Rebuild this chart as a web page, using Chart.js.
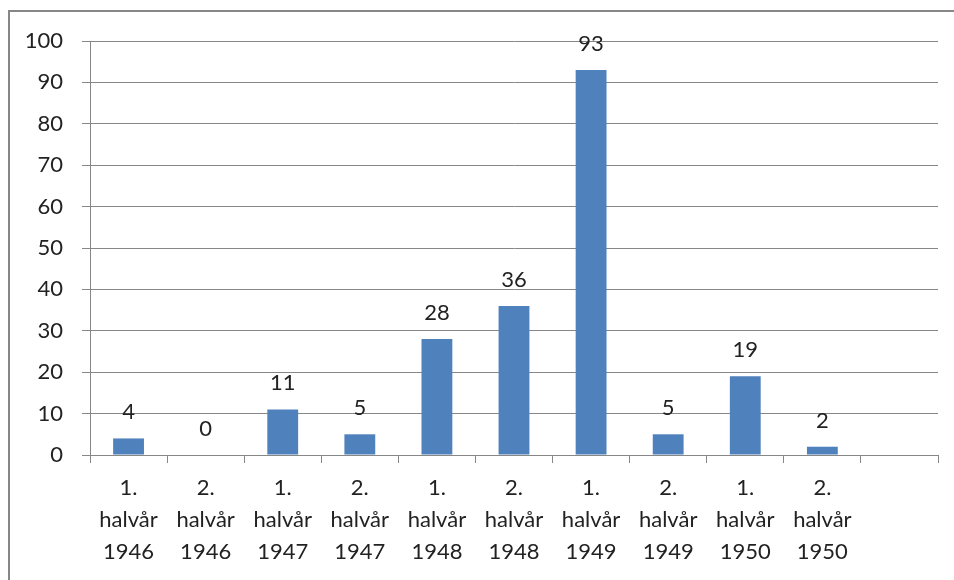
<!DOCTYPE html>
<html><head><meta charset="utf-8">
<script src="https://cdn.jsdelivr.net/npm/chart.js@4"></script>
<style>html,body{margin:0;padding:0;background:#fff;}#wrap{width:954px;height:580px;position:relative;}</style>
</head><body><div id="wrap"><canvas id="c" width="954" height="580"></canvas></div>
<script>
const categories = [["1.","halvår","1946"],["2.","halvår","1946"],["1.","halvår","1947"],["2.","halvår","1947"],["1.","halvår","1948"],["2.","halvår","1948"],["1.","halvår","1949"],["2.","halvår","1949"],["1.","halvår","1950"],["2.","halvår","1950"],""];
const values = [4,0,11,5,28,36,93,5,19,2,null];
const yTicks = [0,10,20,30,40,50,60,70,80,90,100];

const FONT = "Lato, 'Open Sans', sans-serif";
const frame = {id:'frame',beforeDraw(ch){const c=ch.ctx;c.save();c.strokeStyle='#878787';c.lineWidth=2;c.strokeRect(9,11,1000,1000);c.restore();}};
const labels = {id:'labels',afterDatasetsDraw(ch){const c=ch.ctx;const m=ch.getDatasetMeta(0);c.save();c.font='22px '+FONT;c.fillStyle='#222';c.textAlign='center';c.textBaseline='alphabetic';
m.data.forEach((b,i)=>{const v=values[i];if(v===null||v===undefined)return;c.fillText(String(v),b.x,b.y-19);});c.restore();}};
new Chart(document.getElementById('c'),{
 type:'bar',
 data:{labels:categories,datasets:[{data:values,backgroundColor:'#4F81BD',barPercentage:0.4,categoryPercentage:1.0}]},
 options:{responsive:false,animation:false,
  layout:{padding:{top:41,right:16,left:0,bottom:0}},
  plugins:{legend:{display:false},tooltip:{enabled:false}},
  scales:{
   x:{offset:true,grid:{offset:true,drawOnChartArea:false,drawTicks:true,tickLength:8,color:'#878787'},border:{color:'#878787'},
      ticks:{font:{family:FONT,size:22,lineHeight:1.45},color:'#222',padding:9,maxRotation:0,autoSkip:false},
      afterFit(s){s.height=125;}},
   y:{min:0,max:100,afterBuildTicks(s){s.ticks=yTicks.map(v=>({value:v}));},
      grid:{color:'#878787',tickLength:8},border:{color:'#878787'},
      ticks:{font:{family:FONT,size:22},color:'#222',padding:19},
      afterFit(s){s.width=90;}}
  }},
 plugins:[frame,labels]
});
</script></body></html>
